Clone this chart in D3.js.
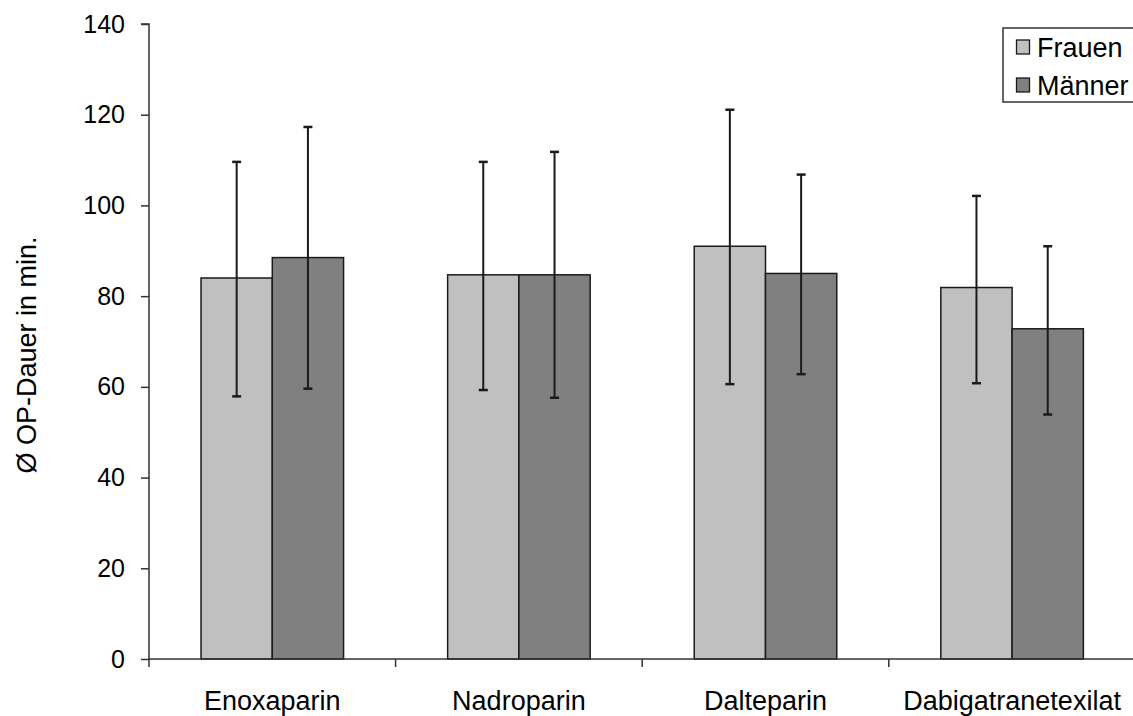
<!DOCTYPE html>
<html>
<head>
<meta charset="utf-8">
<script src="https://cdn.jsdelivr.net/npm/d3@7"></script>
<style>
  html, body { margin: 0; padding: 0; background: #fff; }
  svg { display: block; font-family: "Liberation Sans", Arial, sans-serif; }
</style>
</head>
<body>
<svg id="chart" width="1133" height="716"></svg>
<script>
const categories = ["Enoxaparin", "Nadroparin", "Dalteparin", "Dabigatranetexilat"];
const seriesNames = ["Frauen", "Männer"];
const frauenMean = [84.0, 84.7, 91.0, 81.9];
const frauenLow  = [57.9, 59.3, 60.6, 60.8];
const frauenHigh = [109.6, 109.6, 121.1, 102.1];
const maennerMean = [88.5, 84.7, 85.0, 72.8];
const maennerLow  = [59.6, 57.6, 62.8, 53.9];
const maennerHigh = [117.3, 111.8, 106.8, 91.0];
const yTicks = [0, 20, 40, 60, 80, 100, 120, 140];
const colors = ["#c0c0c0", "#808080"];

const seriesData = [
  { name: seriesNames[0], mean: frauenMean, low: frauenLow, high: frauenHigh },
  { name: seriesNames[1], mean: maennerMean, low: maennerLow, high: maennerHigh }
];

const svg = d3.select("#chart");
const x0 = 149, bandW = 246.6;
const x = d3.scaleBand().domain(categories).range([x0, x0 + bandW * categories.length]).padding(0);
const y = d3.scaleLinear().domain([0, 140]).range([659, 24]);
const bw = x.bandwidth();
const xs = d3.scaleBand().domain(seriesNames).range([bw * 0.211, bw * 0.789]).padding(0);

const axisColor = "#333";

// Bars
const groups = svg.append("g").selectAll("g")
  .data(categories).join("g")
  .attr("transform", d => `translate(${x(d)},0)`);

seriesData.forEach((s, si) => {
  groups.append("rect")
    .attr("x", (d, i) => xs(s.name))
    .attr("y", (d, i) => y(s.mean[i]))
    .attr("width", xs.bandwidth())
    .attr("height", (d, i) => y(0) - y(s.mean[i]))
    .attr("fill", colors[si])
    .attr("stroke", "#1a1a1a")
    .attr("stroke-width", 1.5);
});

// Error bars
seriesData.forEach((s, si) => {
  const cx = xs(s.name) + xs.bandwidth() / 2;
  groups.append("line")
    .attr("x1", cx).attr("x2", cx)
    .attr("y1", (d, i) => y(s.low[i]))
    .attr("y2", (d, i) => y(s.high[i]))
    .attr("stroke", "#1a1a1a").attr("stroke-width", 2);
  ["low", "high"].forEach(k => {
    groups.append("line")
      .attr("x1", cx - 4.5).attr("x2", cx + 4.5)
      .attr("y1", (d, i) => y(s[k][i]))
      .attr("y2", (d, i) => y(s[k][i]))
      .attr("stroke", "#1a1a1a").attr("stroke-width", 2.5);
  });
});

// Y axis
const yAxis = d3.axisLeft(y).tickValues(yTicks).tickSize(8).tickPadding(16).tickFormat(d3.format("d"));
const gy = svg.append("g").attr("transform", `translate(${x0},0)`).call(yAxis);
gy.select(".domain").attr("stroke", axisColor).attr("stroke-width", 1.5).attr("d", `M-8,${y(140)}H0V${y(0) + 8}`);
gy.selectAll(".tick line").attr("stroke", axisColor).attr("stroke-width", 1.5);
gy.selectAll(".tick text").attr("font-size", 25).attr("fill", "#000")
  .attr("font-family", "Liberation Sans, Arial, sans-serif");

// X axis
const bounds = categories.map(c => x(c)).concat([x(categories[categories.length - 1]) + bw]);
const gx = svg.append("g");
gx.append("line").attr("x1", x0).attr("x2", 1133 + 10).attr("y1", y(0)).attr("y2", y(0))
  .attr("stroke", axisColor).attr("stroke-width", 1.5);
gx.selectAll("line.tk").data(bounds.slice(1)).join("line").attr("class", "tk")
  .attr("x1", d => d).attr("x2", d => d).attr("y1", y(0)).attr("y2", y(0) + 8)
  .attr("stroke", axisColor).attr("stroke-width", 1.5);
gx.selectAll("text").data(categories).join("text")
  .attr("x", d => x(d) + bw / 2)
  .attr("y", 710)
  .attr("text-anchor", "middle")
  .attr("font-size", 27)
  .attr("fill", "#000")
  .text(d => d);

// Y title
svg.append("text")
  .attr("transform", `translate(36,355) rotate(-90)`)
  .attr("text-anchor", "middle")
  .attr("font-size", 27)
  .attr("fill", "#000")
  .text("Ø OP-Dauer in min.");

// Legend
const lg = svg.append("g");
lg.append("rect").attr("x", 1003).attr("y", 28).attr("width", 150).attr("height", 74)
  .attr("fill", "#fff").attr("stroke", axisColor).attr("stroke-width", 1.5);
const legY = [47, 85];
seriesNames.forEach((n, i) => {
  lg.append("rect").attr("x", 1016.5).attr("y", legY[i] - 7).attr("width", 13).attr("height", 14)
    .attr("fill", colors[i]).attr("stroke", "#1a1a1a").attr("stroke-width", 1.3);
  lg.append("text").attr("x", 1037).attr("y", legY[i] + 10)
    .attr("font-size", 27).attr("fill", "#000").text(n);
});
</script>
</body>
</html>
